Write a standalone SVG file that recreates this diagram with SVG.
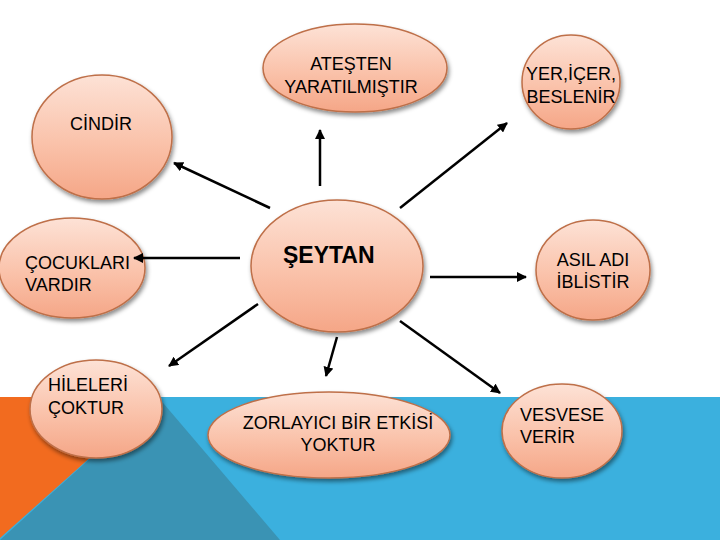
<svg xmlns="http://www.w3.org/2000/svg" width="720" height="540" viewBox="0 0 720 540">
  <defs>
    <linearGradient id="peach" x1="0" y1="0" x2="0" y2="1">
      <stop offset="0" stop-color="#FDE2D6"/>
      <stop offset="0.55" stop-color="#FAC2AA"/>
      <stop offset="1" stop-color="#F5A687"/>
    </linearGradient>
    <filter id="shadow" x="-20%" y="-20%" width="140%" height="150%">
      <feDropShadow dx="1.5" dy="3" stdDeviation="2" flood-color="#000" flood-opacity="0.45"/>
    </filter>
    <marker id="arr" viewBox="0 0 10 10" refX="9" refY="5" markerWidth="4" markerHeight="4" orient="auto" markerUnits="strokeWidth">
      <path d="M0,0 L10,5 L0,10 z" fill="#000"/>
    </marker>
    <style>
      .node ellipse { fill: url(#peach); stroke: #BE6F48; stroke-width: 1.5; filter: url(#shadow); }
      .node text { font-family: "Liberation Sans", Arial, sans-serif; font-size: 18px; fill: #000; }
      .c { text-anchor: middle; }
      .conn line { stroke: #000; stroke-width: 2.5; marker-end: url(#arr); }
    </style>
  </defs>

  <rect x="0" y="0" width="720" height="540" fill="#FFFFFF"/>
  <rect x="0" y="397" width="720" height="143" fill="#3BB0DE"/>
  <polygon points="158,397 280,540 0,540" fill="#3A93B4"/>
  <polygon points="0,397 158,397 0,538" fill="#F26B1F"/>

  <g id="node-atesten" class="node">
    <ellipse cx="355" cy="68" rx="92" ry="44"/>
    <text class="c" x="351" y="70">ATEŞTEN</text>
    <text class="c" x="351" y="93">YARATILMIŞTIR</text>
  </g>

  <g id="node-yer" class="node">
    <ellipse cx="571" cy="82" rx="49" ry="47"/>
    <text class="c" x="571" y="80">YER,İÇER,</text>
    <text class="c" x="571" y="103">BESLENİR</text>
  </g>

  <g id="node-cindir" class="node">
    <ellipse cx="102" cy="137" rx="70" ry="62"/>
    <text class="c" x="101" y="130">CİNDİR</text>
  </g>

  <g id="node-cocuklari" class="node">
    <ellipse cx="72" cy="268" rx="73" ry="50"/>
    <text x="25" y="269">ÇOCUKLARI</text>
    <text x="25" y="291">VARDIR</text>
  </g>

  <g id="node-seytan" class="node">
    <ellipse cx="337" cy="266" rx="86" ry="66"/>
    <text x="283" y="263" style="font-size:23px;font-weight:bold">ŞEYTAN</text>
  </g>

  <g id="node-asil" class="node">
    <ellipse cx="593" cy="270" rx="57" ry="50"/>
    <text class="c" x="593" y="266">ASIL ADI</text>
    <text class="c" x="593" y="288">İBLİSTİR</text>
  </g>

  <g id="node-hileleri" class="node">
    <ellipse cx="96" cy="409" rx="66" ry="49"/>
    <text x="48" y="391">HİLELERİ</text>
    <text x="48" y="414">ÇOKTUR</text>
  </g>

  <g id="node-zorlayici" class="node">
    <ellipse cx="329" cy="435" rx="121" ry="43"/>
    <text class="c" x="338" y="429">ZORLAYICI BİR ETKİSİ</text>
    <text class="c" x="338" y="451">YOKTUR</text>
  </g>

  <g id="node-vesvese" class="node">
    <ellipse cx="562" cy="431" rx="60" ry="47"/>
    <text x="520" y="421">VESVESE</text>
    <text x="520" y="443">VERİR</text>
  </g>

  <g id="connectors" class="conn">
    <line x1="320" y1="186" x2="320" y2="130"/>
    <line x1="270" y1="208" x2="174" y2="163"/>
    <line x1="400" y1="208" x2="507" y2="123"/>
    <line x1="240" y1="258" x2="134" y2="258"/>
    <line x1="430" y1="277" x2="526" y2="277"/>
    <line x1="258" y1="304" x2="169" y2="366"/>
    <line x1="337" y1="337" x2="326" y2="376"/>
    <line x1="400" y1="321" x2="500" y2="393"/>
  </g>
</svg>
